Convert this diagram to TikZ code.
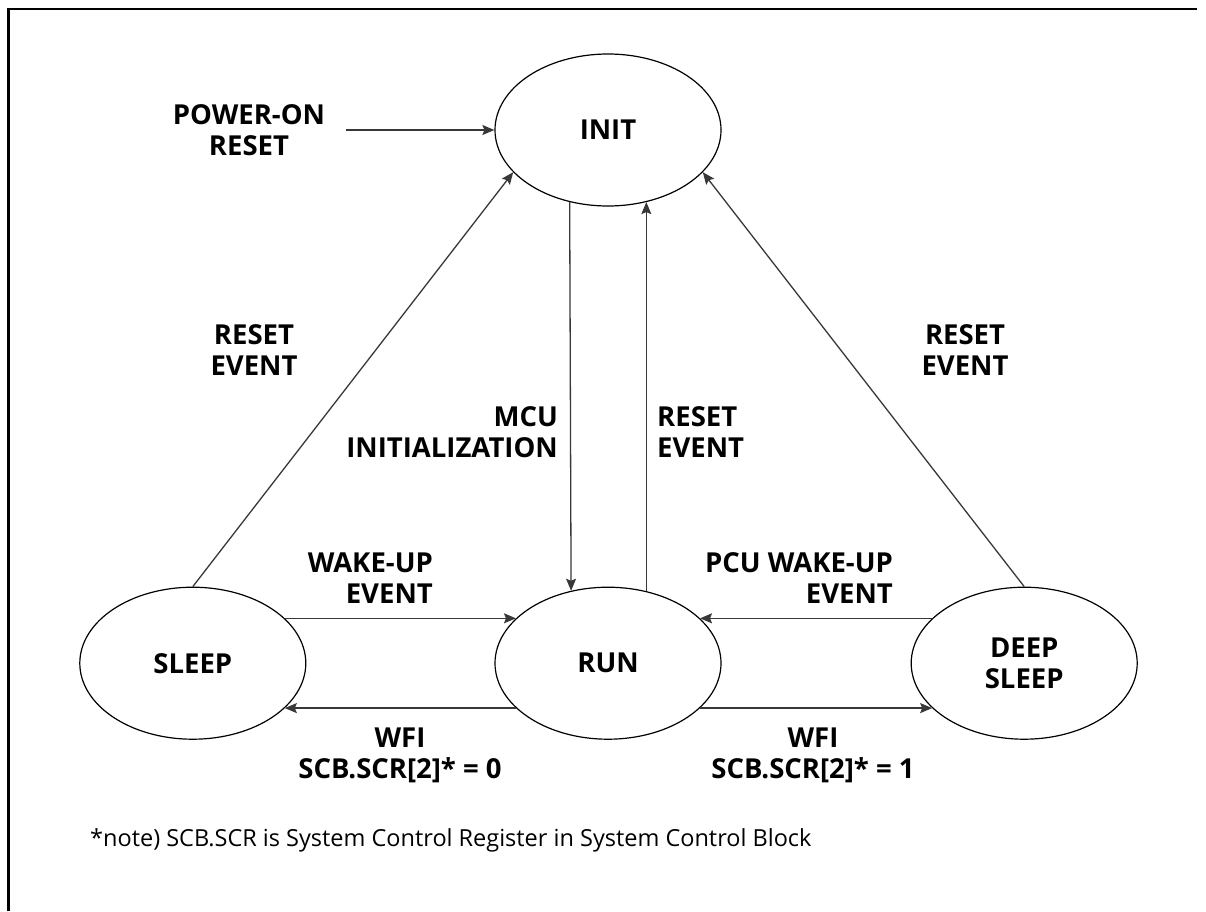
\documentclass[tikz,border=0pt]{standalone}
\usepackage{fontspec}
\setmainfont{Open Sans}
\usetikzlibrary{positioning}
\usetikzlibrary{arrows.meta}
\usetikzlibrary{shapes.geometric}

\begin{document}
\begin{tikzpicture}[x=1pt,y=-1pt]
\tikzset{
  state/.style={ellipse,draw=black,line width=1.2pt,minimum width=226pt,minimum height=152pt,inner sep=0pt,font=\fontsize{27.5}{31}\selectfont\bfseries,align=center},
  label/.style={inner sep=0pt,font=\fontsize{27.5}{31}\selectfont\bfseries,text=black},
  note/.style={inner sep=0pt,font=\fontsize{23.5}{27}\selectfont,anchor=west},
  arrow/.style={-{Stealth[length=12pt,width=10pt,inset=2pt]},line width=1.3pt,draw=black!78},
}
\useasboundingbox (0,0) rectangle (1206,911);
\draw[line width=2.5pt] (8.5,911) -- (8.5,9) -- (1197,9);
%
\node[state] (init) at (608,130) {INIT};
\node[state,below=380pt of init] (run) {RUN};
\node[state,left=188pt of run] (sleep) {SLEEP};
\node[state,right=189pt of run] (deep) {DEEP\\SLEEP};
\node[label,align=center] (pon) at (249,130) {POWER-ON\\RESET};
%
\path[arrow] (pon.east) ++(21pt,0) coordinate (ponend) -- (init.west);
\path[arrow] (sleep.north) -- (init.204);
\path[arrow] (deep.north) -- (init.336);
\path[arrow] (init.242.8) -- (run.117.2);
\path[arrow] (run.62) -- (init.298);
\path[arrow] (sleep.26) -- (run.154);
\path[arrow] (run.206) -- (sleep.334);
\path[arrow] (deep.154) -- (run.26);
\path[arrow] (run.334) -- (deep.206);
%
\node[label,align=center] (rstl) at (254,350) {RESET\\EVENT};
\node[label,align=right,anchor=east] (mcu) at (558,432) {MCU\\INITIALIZATION};
\node[label,align=left,anchor=west] (rstm) at (657,432) {RESET\\EVENT};
\node[label,align=center] (rstr) at (965,350) {RESET\\EVENT};
\node[label,align=right,anchor=east] (wake) at (433,578) {WAKE-UP\\EVENT};
\node[label,align=right,anchor=east] (pcu) at (893,578) {PCU WAKE-UP\\EVENT};
\node[label,align=center] (wfi0) at (400,755) {WFI\\SCB.SCR[2]* = 0};
\node[label,align=center] (wfi1) at (813,755) {WFI\\SCB.SCR[2]* = 1};
\node[note] (remark) at (90,840) {*note) SCB.SCR is System Control Register in System Control Block};
\end{tikzpicture}
\end{document}
